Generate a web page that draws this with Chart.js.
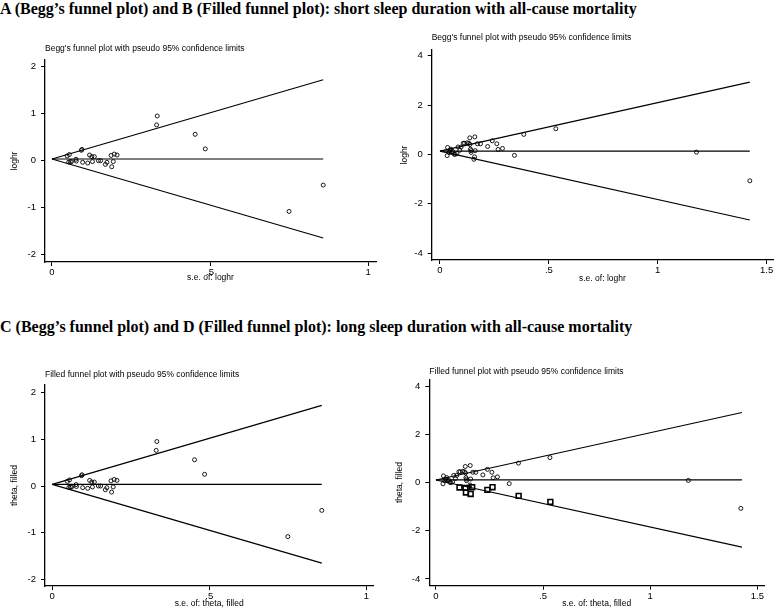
<!DOCTYPE html>
<html>
<head>
<meta charset="utf-8">
<script src="https://cdn.jsdelivr.net/npm/chart.js@4"></script>
<style>
  body { margin: 0; background: #fff; width: 778px; height: 608px; position: relative; overflow: hidden; }
  .kop { position: absolute; left: 0; font-family: "Liberation Serif", "Times New Roman", serif; font-weight: bold; font-size: 16px; line-height: 17px; white-space: nowrap; color: #000; }
  .vak { position: absolute; }
</style>
</head>
<body>
<div class="kop" style="top:0px">A (Begg’s funnel plot) and B (Filled funnel plot): short sleep duration with all-cause mortality</div>
<div class="kop" style="top:318px">C (Begg’s funnel plot) and D (Filled funnel plot): long sleep duration with all-cause mortality</div>
<div class="vak" style="left:0;top:28px;width:389px;height:262px"><canvas id="chartA"></canvas></div>
<div class="vak" style="left:389px;top:28px;width:389px;height:262px"><canvas id="chartB"></canvas></div>
<div class="vak" style="left:0;top:342px;width:389px;height:266px"><canvas id="chartC"></canvas></div>
<div class="vak" style="left:389px;top:342px;width:389px;height:266px"><canvas id="chartD"></canvas></div>
<script>
// Korte slaapduur: studies (s.e. en log HR)
const seShort = [0.048, 0.055, 0.053, 0.058, 0.062, 0.076, 0.077, 0.093, 0.095, 0.097, 0.113, 0.119, 0.126, 0.128, 0.134,
                 0.147, 0.154, 0.169, 0.174, 0.187, 0.189, 0.194, 0.197, 0.206, 0.331, 0.333, 0.453, 0.485, 0.750, 0.858];
const loghrShort = [0.10, 0.13, -0.03, -0.02, -0.02, 0.03, -0.01, 0.22, 0.24, -0.035, -0.05, 0.12, 0.085, -0.02, 0.085,
                    0.0, 0.0, -0.08, -0.035, 0.11, -0.13, -0.02, 0.14, 0.12, 0.76, 0.95, 0.56, 0.25, -1.08, -0.52];

// Lange slaapduur
const seLong = [0.033, 0.035, 0.042, 0.045, 0.050, 0.053, 0.058, 0.065, 0.070, 0.078, 0.083, 0.091, 0.097, 0.107, 0.113,
                0.125, 0.133, 0.137, 0.138, 0.140, 0.143, 0.143, 0.156, 0.159, 0.160, 0.162, 0.172, 0.186, 0.219, 0.240,
                0.261, 0.267, 0.287, 0.342, 0.385, 0.532, 1.178, 1.423];
const loghrLong = [-0.05, 0.28, 0.08, 0.15, 0.21, 0.08, 0.12, 0.01, 0.00, 0.04, 0.30, 0.17, 0.30, 0.45, 0.45,
                   0.47, 0.45, 0.67, 0.40, 0.21, 0.15, 0.08, -0.20, -0.10, 0.71, 0.15, 0.43, 0.43, 0.32, 0.55,
                   0.43, 0.20, 0.24, -0.04, 0.81, 1.04, 0.09, -1.07];

// Ingevulde (imputed) studies in plot D
const seFilled = [0.110, 0.138, 0.140, 0.162, 0.169, 0.240, 0.264, 0.386, 0.534];
const thetaFilled = [-0.20, -0.22, -0.41, -0.47, -0.19, -0.30, -0.19, -0.55, -0.80];

// Pseudo 95% grenzen: begin- en eindpunt (s.e., waarde)
const limSeShort = [0, 0.858];
const centerShort = [0.035, 0.035];
const upperShort = [0.035, 1.72];
const lowerShort = [0.035, -1.645];

const limSeLongB = [0, 1.423];
const centerLongB = [0.135, 0.135];
const upperLongB = [0.135, 2.93];
const lowerLongB = [0.135, -2.66];

const limSeLongD = [0, 1.428];
const centerLongD = [0.11, 0.11];
const upperLongD = [0.11, 2.91];
const lowerLongD = [0.11, -2.68];

// Assen
const xTicksShort = [0, 0.5, 1];
const xLabelsShort = ["0", ".5", "1"];
const yTicksShort = [-2, -1, 0, 1, 2];
const yLabelsShort = ["-2", "-1", "0", "1", "2"];
const xTicksLong = [0, 0.5, 1, 1.5];
const xLabelsLong = ["0", ".5", "1", "1.5"];
const yTicksLong = [-4, -2, 0, 2, 4];
const yLabelsLong = ["-4", "-2", "0", "2", "4"];

const FONT = "'Liberation Sans', Arial, sans-serif";
Chart.defaults.color = "#000";
Chart.defaults.font.family = FONT;

function punten(xs, ys) {
    return xs.map((x, i) => ({ x: x, y: ys[i] }));
}

function lijn(data) {
    return { type: "line", data: data, borderColor: "#000", borderWidth: 1.2, pointRadius: 0, showLine: true, fill: false, order: 2 };
}

function maakFunnel(id, c) {
    const datasets = [
        lijn(punten(c.limSe, c.upper)),
        lijn(punten(c.limSe, c.center)),
        lijn(punten(c.limSe, c.lower)),
        { data: punten(c.se, c.val), pointStyle: "circle", pointRadius: 2, borderWidth: 0.9,
          borderColor: "#000", backgroundColor: "rgba(0,0,0,0)", order: 1 }
    ];
    if (c.seFill) {
        datasets.push({ data: punten(c.seFill, c.valFill), pointStyle: "rect", pointRadius: 3.4, borderWidth: 1.6,
                        borderColor: "#000", backgroundColor: "rgba(0,0,0,0)", order: 0 });
    }
    return new Chart(document.getElementById(id), {
        type: "scatter",
        data: { datasets: datasets },
        options: {
            responsive: true,
            maintainAspectRatio: false,
            animation: false,
            layout: { padding: { left: 0, right: c.padRight, top: 0, bottom: 0 } },
            plugins: {
                legend: { display: false },
                tooltip: { enabled: false },
                title: {
                    display: true, text: c.title, align: "start", fullSize: false,
                    font: { size: 8.5, weight: "normal", family: FONT, lineHeight: 1.2 },
                    padding: { top: c.titleTop, bottom: c.titleBottom }
                }
            },
            scales: {
                x: {
                    type: "linear", min: c.xMin, max: c.xMax,
                    afterBuildTicks: s => { s.ticks = c.xTicks.map(v => ({ value: v })); },
                    afterFit: s => { s.height = c.xHeight; },
                    ticks: { autoSkip: false, maxRotation: 0, padding: 1, font: { size: 9.5 },
                             callback: v => c.xLabels[c.xTicks.indexOf(v)] },
                    grid: { drawOnChartArea: false, drawTicks: true, tickLength: 4, color: "#000", lineWidth: 1 },
                    border: { color: "#000", width: 1.3 },
                    title: { display: true, text: c.xTitle, font: { size: 8.5, lineHeight: 1 }, padding: { top: 0, bottom: c.xTitlePad } }
                },
                y: {
                    type: "linear", min: c.yMin, max: c.yMax,
                    afterBuildTicks: s => { s.ticks = c.yTicks.map(v => ({ value: v })); },
                    afterFit: s => { s.width = c.yWidth; },
                    ticks: { autoSkip: false, padding: 5, font: { size: 9.5 },
                             callback: v => c.yLabels[c.yTicks.indexOf(v)] },
                    grid: { drawOnChartArea: false, drawTicks: true, tickLength: 4, color: "#000", lineWidth: 1 },
                    border: { color: "#000", width: 1.3 },
                    title: { display: true, text: c.yTitle, font: { size: 8.5, lineHeight: 1 }, padding: { top: c.yTitlePad, bottom: 0 } }
                }
            }
        }
    });
}

// A
maakFunnel("chartA", {
    title: "Begg's funnel plot with pseudo 95% confidence limits", xTitle: "s.e. of: loghr", yTitle: "loghr",
    se: seShort, val: loghrShort, limSe: limSeShort, center: centerShort, upper: upperShort, lower: lowerShort,
    xMin: -0.022, xMax: 1.025, yMin: -2.155, yMax: 2.14,
    xTicks: xTicksShort, xLabels: xLabelsShort, yTicks: yTicksShort, yLabels: yLabelsShort,
    padRight: 13, titleTop: 15.9, titleBottom: 5.9, xHeight: 28, xTitlePad: 7.75, yWidth: 45, yTitlePad: 10.75
});

// B
maakFunnel("chartB", {
    title: "Begg's funnel plot with pseudo 95% confidence limits", xTitle: "s.e. of: loghr", yTitle: "loghr",
    se: seLong, val: loghrLong, limSe: limSeLongB, center: centerLongB, upper: upperLongB, lower: lowerLongB,
    xMin: -0.038, xMax: 1.53, yMin: -4.28, yMax: 4.23,
    xTicks: xTicksLong, xLabels: xLabelsLong, yTicks: yTicksLong, yLabels: yLabelsLong,
    padRight: 0, titleTop: 4.9, titleBottom: 6.9, xHeight: 30, xTitlePad: 7.45, yWidth: 42.7, yTitlePad: 11.75
});

// C
maakFunnel("chartC", {
    title: "Filled funnel plot with pseudo 95% confidence limits", xTitle: "s.e. of: theta, filled", yTitle: "theta, filled",
    se: seShort, val: loghrShort, limSe: limSeShort, center: centerShort, upper: upperShort, lower: lowerShort,
    xMin: -0.023, xMax: 1.022, yMin: -2.134, yMax: 2.156,
    xTicks: xTicksShort, xLabels: xLabelsShort, yTicks: yTicksShort, yLabels: yLabelsShort,
    padRight: 15.7, titleTop: 27.9, titleBottom: 4.9, xHeight: 22, xTitlePad: 0, yWidth: 45, yTitlePad: 10.75
});

// D
maakFunnel("chartD", {
    title: "Filled funnel plot with pseudo 95% confidence limits", xTitle: "s.e. of: theta, filled", yTitle: "theta, filled",
    se: seLong, val: loghrLong, seFill: seFilled, valFill: thetaFilled,
    limSe: limSeLongD, center: centerLongD, upper: upperLongD, lower: lowerLongD,
    xMin: -0.031, xMax: 1.531, yMin: -4.28, yMax: 4.29,
    xTicks: xTicksLong, xLabels: xLabelsLong, yTicks: yTicksLong, yLabels: yLabelsLong,
    padRight: 14, titleTop: 24.6, titleBottom: 2.5, xHeight: 22.3, xTitlePad: 0, yWidth: 40.3, yTitlePad: 6.75
});
</script>
</body>
</html>
